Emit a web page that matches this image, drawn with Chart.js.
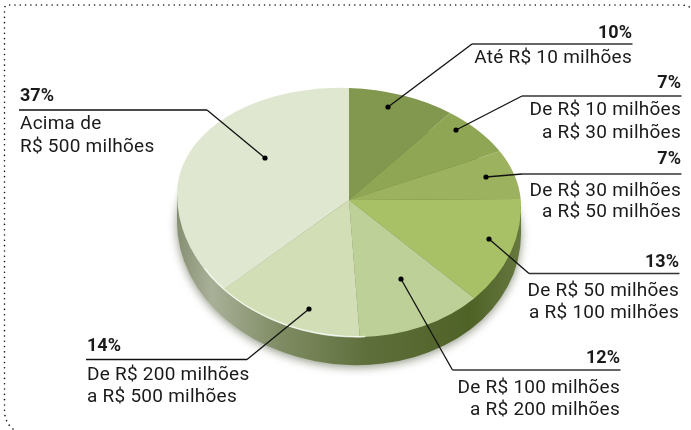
<!DOCTYPE html>
<html><head><meta charset="utf-8">
<style>html,body{margin:0;padding:0;background:#fff}#w{width:691px;height:430px;position:relative}</style>
<script src="https://cdn.jsdelivr.net/npm/chart.js@4"></script>
</head><body><div id="w"><canvas id="c" width="691" height="430"></canvas></div>
<script>
const categories=["Até R$ 10 milhões","De R$ 10 milhões\na R$ 30 milhões","De R$ 30 milhões\na R$ 50 milhões","De R$ 50 milhões\na R$ 100 milhões","De R$ 100 milhões\na R$ 200 milhões","De R$ 200 milhões\na R$ 500 milhões","Acima de\nR$ 500 milhões"];
const shares=[10,7,7,13,12,14,37];
const sliceColors=["#83984f","#8fa655","#9cb25e","#a8c066","#bdd098","#d2deb6","#dfe7d0"];
const callouts=[
 {x:632,a:"right",p:38,r:44,e:472,d:[388,107],l:[63],c:"#333"},
 {x:681,a:"right",p:88,r:96,e:522,d:[456,130],l:[115,138],c:"#333"},
 {x:681,a:"right",p:164,r:174,e:522,d:[486,177],l:[196,217],c:"#333"},
 {x:679,a:"right",p:267,r:273.5,e:529,d:[489,239],l:[296,318],c:"#333"},
 {x:620,a:"right",p:363,r:370,e:452.5,d:[401,279],l:[393,415],c:"#333"},
 {x:87,a:"left",p:351,r:359.5,e:247,d:[309,309],l:[380,402],c:"#111"},
 {x:20,a:"left",p:101,r:110,e:207,d:[265,158],l:[129,152],c:"#111"}
];
const TOP=0.651,BOT=0.797,DEPTH=28,TILT=0.035;
function tilt(ctx,cx,cy){ctx.translate(cx,cy);ctx.transform(1,TILT,0,1,0,0);ctx.translate(-cx,-cy);}
function eggPath(ctx,cx,cy,r,dy){
  ctx.beginPath();
  ctx.ellipse(cx,cy+dy,r,r*TOP,0,Math.PI,2*Math.PI);
  ctx.ellipse(cx,cy+dy,r,r*BOT,0,0,Math.PI);
  ctx.closePath();
}
const pie3d={id:"pie3d",
 beforeDatasetsDraw(chart){
  const ctx=chart.ctx,a=chart.getDatasetMeta(0).data[0],cx=a.x,cy=a.y,r=a.outerRadius;
  ctx.save();
  tilt(ctx,cx,cy);
  ctx.shadowColor="rgba(70,80,50,.6)";ctx.shadowBlur=10;ctx.shadowOffsetY=2;
  const g=ctx.createLinearGradient(cx-r,0,cx+r,0);
  g.addColorStop(0,"#868f72");g.addColorStop(.1,"#a9b098");g.addColorStop(.3,"#7f8c63");
  g.addColorStop(.55,"#5f6f3c");g.addColorStop(.85,"#4f6226");g.addColorStop(1,"#66783e");
  ctx.fillStyle=g;
  eggPath(ctx,cx,cy,r,DEPTH);ctx.fill();
  ctx.shadowColor="transparent";
  ctx.fillRect(cx-r,cy,2*r,DEPTH);
  ctx.restore();
 },
 beforeDatasetDraw(chart,args){
  const ctx=chart.ctx,meta=args.meta,a=meta.data[0],cx=a.x,cy=a.y,r=a.outerRadius;
  [[cy-r,r+.5,TOP],[cy-.5,r+2,BOT]].forEach(([y,h,s])=>{
   ctx.save();
   tilt(ctx,cx,cy);
   ctx.beginPath();ctx.rect(0,y,chart.width,h);ctx.clip();
   ctx.translate(cx,cy);ctx.scale(1,s);ctx.translate(-cx,-cy);
   meta.controller.draw();
   ctx.restore();
  });
  ctx.save();
  tilt(ctx,cx,cy);
  ctx.strokeStyle="rgba(255,255,255,.75)";ctx.lineWidth=1.4;
  ctx.beginPath();ctx.ellipse(cx,cy,r-.5,r*BOT-.5,0,Math.PI*.47,Math.PI*.82);ctx.stroke();
  ctx.restore();
  return false;
 },
 afterDraw(chart){
  const ctx=chart.ctx;
  ctx.save();
  ctx.strokeStyle="#111";ctx.lineWidth=1.6;ctx.lineCap="round";ctx.setLineDash([.01,5.3]);
  ctx.beginPath();ctx.moveTo(13,429);ctx.quadraticCurveTo(4.5,422,4.5,410);ctx.lineTo(4.5,9);
  ctx.quadraticCurveTo(4.5,5,8,5);ctx.lineTo(680,5);ctx.quadraticCurveTo(687,5,691,8);ctx.stroke();
  ctx.setLineDash([]);ctx.lineCap="butt";
  callouts.forEach((c,i)=>{
   ctx.strokeStyle=c.c;ctx.lineWidth=1.5;
   ctx.beginPath();
   const start=c.a==="right"?c.x+.5:c.x-1;
   ctx.moveTo(start,c.r);ctx.lineTo(c.e,c.r);ctx.stroke();
   ctx.strokeStyle="#111";ctx.lineWidth=1.3;
   ctx.beginPath();ctx.moveTo(c.e,c.r);ctx.lineTo(c.d[0],c.d[1]);ctx.stroke();
   ctx.fillStyle="#000";ctx.beginPath();ctx.arc(c.d[0],c.d[1],2.6,0,7);ctx.fill();
   ctx.textAlign=c.a;ctx.textBaseline="alphabetic";ctx.fillStyle="#1a1a1a";
   ctx.letterSpacing="0px";
   ctx.font='bold 18px "Roboto"';
   ctx.fillText(shares[i]+"%",c.x,c.p);
   ctx.font='19px "Roboto"';
   ctx.letterSpacing="0.25px";
   categories[i].split("\n").forEach((t,j)=>ctx.fillText(t,c.x,c.l[j]));
  });
  ctx.restore();
 }
};
new Chart(document.getElementById("c"),{
 type:"pie",
 data:{labels:categories.map(s=>s.replace("\n"," ")),datasets:[{data:shares,backgroundColor:sliceColors,borderWidth:0}]},
 options:{responsive:false,animation:false,events:[],
  layout:{padding:{left:177,right:170,top:28,bottom:58}},
  plugins:{legend:{display:false},tooltip:{enabled:false},title:{display:false}}},
 plugins:[pie3d]
});
</script></body></html>
